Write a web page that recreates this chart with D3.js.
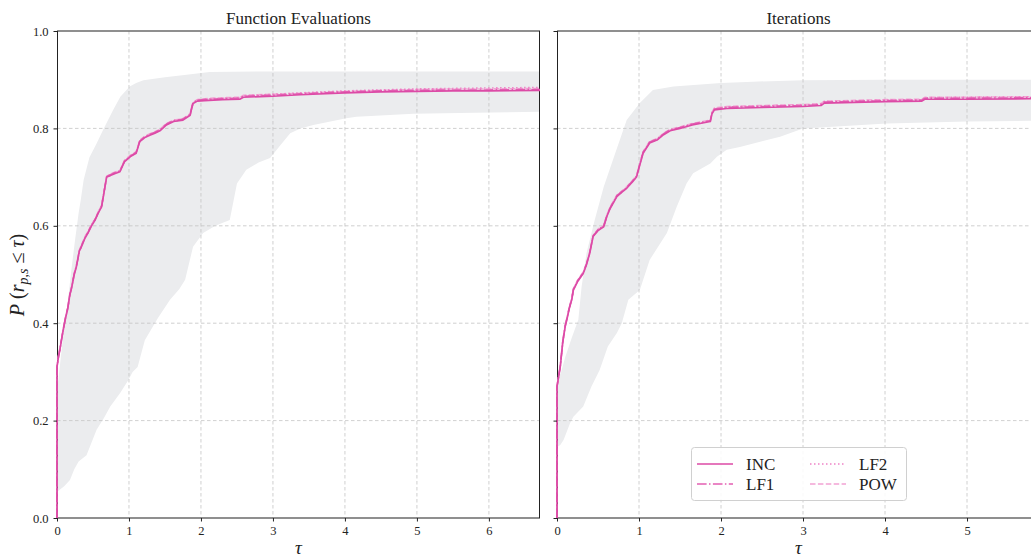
<!DOCTYPE html>
<html>
<head>
<meta charset="utf-8">
<script src="https://cdn.jsdelivr.net/npm/d3@7"></script>
<style>
  html, body { margin: 0; padding: 0; background: #fff; }
  svg { display: block; }
  text { font-family: "Liberation Serif", "DejaVu Serif", serif; fill: #222; }
</style>
</head>
<body>
<svg id="chart" width="1031" height="557"></svg>
<script>
// ---- Performance profiles: function evaluations ----
const fevalTau = [0, 0, 0.02, 0.04, 0.08, 0.11, 0.15, 0.18, 0.20, 0.24, 0.27, 0.31, 0.34, 0.39, 0.43, 0.48, 0.53, 0.58, 0.62, 0.65, 0.69, 0.74, 0.80, 0.875, 0.94, 1.02, 1.10, 1.15, 1.22, 1.29, 1.36, 1.43, 1.52, 1.62, 1.75, 1.85, 1.87, 1.89, 1.95, 2.05, 2.30, 2.54, 2.59, 3.00, 3.38, 4.00, 4.50, 5.00, 5.50, 6.00, 6.71];
const fevalINC = [0, 0.31, 0.33, 0.345, 0.38, 0.405, 0.43, 0.46, 0.47, 0.50, 0.516, 0.548, 0.557, 0.575, 0.585, 0.60, 0.612, 0.628, 0.639, 0.665, 0.70, 0.703, 0.707, 0.711, 0.732, 0.742, 0.749, 0.773, 0.781, 0.786, 0.79, 0.795, 0.807, 0.814, 0.817, 0.827, 0.84, 0.851, 0.856, 0.857, 0.859, 0.860, 0.864, 0.866, 0.869, 0.873, 0.875, 0.876, 0.877, 0.877, 0.878];
const fevalLF1 = [0, 0.31, 0.332, 0.347, 0.382, 0.404, 0.432, 0.458, 0.472, 0.502, 0.518, 0.546, 0.559, 0.577, 0.586, 0.602, 0.613, 0.63, 0.641, 0.667, 0.701, 0.705, 0.709, 0.713, 0.734, 0.743, 0.751, 0.774, 0.783, 0.788, 0.792, 0.797, 0.809, 0.816, 0.819, 0.829, 0.842, 0.853, 0.858, 0.859, 0.861, 0.862, 0.866, 0.868, 0.871, 0.875, 0.877, 0.878, 0.879, 0.879, 0.880];
const fevalLF2 = [0, 0.31, 0.331, 0.346, 0.381, 0.406, 0.431, 0.461, 0.471, 0.501, 0.517, 0.549, 0.558, 0.576, 0.586, 0.601, 0.613, 0.629, 0.640, 0.666, 0.701, 0.704, 0.708, 0.712, 0.733, 0.743, 0.750, 0.774, 0.782, 0.787, 0.791, 0.796, 0.808, 0.815, 0.818, 0.828, 0.841, 0.852, 0.858, 0.860, 0.862, 0.863, 0.867, 0.870, 0.873, 0.877, 0.879, 0.881, 0.882, 0.883, 0.884];
const fevalPOW = [0, 0.31, 0.333, 0.348, 0.383, 0.407, 0.433, 0.462, 0.473, 0.503, 0.519, 0.550, 0.560, 0.578, 0.588, 0.603, 0.614, 0.631, 0.642, 0.668, 0.702, 0.706, 0.710, 0.714, 0.735, 0.745, 0.752, 0.776, 0.784, 0.789, 0.793, 0.798, 0.810, 0.817, 0.820, 0.830, 0.843, 0.854, 0.859, 0.861, 0.863, 0.864, 0.868, 0.870, 0.872, 0.876, 0.878, 0.880, 0.881, 0.881, 0.882];
// spread band (upper and lower envelopes)
const fevalHiTau = [0, 0.02, 0.06, 0.10, 0.13, 0.17, 0.20, 0.25, 0.30, 0.33, 0.37, 0.45, 0.55, 0.65, 0.78, 0.88, 1.01, 1.10, 1.20, 1.50, 1.80, 2.12, 3.00, 4.00, 5.00, 6.71];
const fevalHi = [0.27, 0.285, 0.34, 0.39, 0.42, 0.47, 0.51, 0.57, 0.626, 0.653, 0.694, 0.74, 0.769, 0.80, 0.838, 0.865, 0.886, 0.893, 0.899, 0.905, 0.91, 0.916, 0.917, 0.917, 0.917, 0.917];
const fevalLoTau = [0, 0.02, 0.10, 0.18, 0.24, 0.30, 0.41, 0.48, 0.55, 0.65, 0.74, 0.875, 0.99, 1.05, 1.12, 1.22, 1.40, 1.57, 1.70, 1.78, 1.89, 2.03, 2.20, 2.40, 2.50, 2.63, 2.80, 2.96, 3.10, 3.24, 3.38, 3.56, 4.02, 4.16, 4.95, 5.80, 6.71];
const fevalLo = [0.055, 0.056, 0.065, 0.078, 0.10, 0.116, 0.129, 0.155, 0.181, 0.205, 0.229, 0.256, 0.283, 0.30, 0.31, 0.365, 0.41, 0.448, 0.47, 0.489, 0.557, 0.585, 0.60, 0.612, 0.687, 0.715, 0.73, 0.739, 0.765, 0.79, 0.80, 0.807, 0.821, 0.824, 0.83, 0.832, 0.834];

// ---- Performance profiles: iterations ----
const iterTau = [0, 0, 0.02, 0.04, 0.07, 0.10, 0.12, 0.15, 0.18, 0.20, 0.25, 0.32, 0.36, 0.40, 0.44, 0.50, 0.57, 0.61, 0.65, 0.73, 0.80, 0.85, 0.92, 0.97, 1.01, 1.05, 1.13, 1.22, 1.30, 1.38, 1.50, 1.65, 1.87, 1.89, 1.92, 2.07, 2.50, 3.00, 3.22, 3.26, 4.00, 4.45, 4.49, 5.00, 5.89];
const iterINC = [0, 0.27, 0.29, 0.31, 0.36, 0.393, 0.407, 0.43, 0.448, 0.468, 0.485, 0.502, 0.52, 0.544, 0.578, 0.59, 0.598, 0.62, 0.636, 0.66, 0.67, 0.677, 0.69, 0.70, 0.725, 0.749, 0.77, 0.776, 0.787, 0.795, 0.80, 0.807, 0.814, 0.83, 0.838, 0.841, 0.843, 0.845, 0.847, 0.852, 0.855, 0.856, 0.860, 0.860, 0.861];
const iterLF1 = [0, 0.27, 0.292, 0.312, 0.362, 0.395, 0.409, 0.432, 0.450, 0.470, 0.487, 0.504, 0.522, 0.546, 0.579, 0.592, 0.600, 0.622, 0.638, 0.662, 0.672, 0.679, 0.692, 0.702, 0.727, 0.751, 0.772, 0.778, 0.789, 0.797, 0.802, 0.809, 0.816, 0.832, 0.840, 0.843, 0.845, 0.847, 0.849, 0.854, 0.857, 0.858, 0.862, 0.862, 0.863];
const iterLF2 = [0, 0.27, 0.291, 0.311, 0.361, 0.394, 0.408, 0.431, 0.449, 0.469, 0.486, 0.503, 0.521, 0.545, 0.579, 0.591, 0.599, 0.621, 0.637, 0.661, 0.671, 0.678, 0.691, 0.701, 0.726, 0.750, 0.771, 0.777, 0.788, 0.796, 0.801, 0.808, 0.815, 0.832, 0.840, 0.844, 0.846, 0.848, 0.850, 0.855, 0.858, 0.859, 0.863, 0.864, 0.865];
const iterPOW = [0, 0.27, 0.293, 0.313, 0.363, 0.396, 0.410, 0.433, 0.451, 0.471, 0.488, 0.505, 0.523, 0.547, 0.580, 0.593, 0.601, 0.623, 0.639, 0.663, 0.673, 0.680, 0.693, 0.703, 0.728, 0.752, 0.773, 0.779, 0.790, 0.798, 0.803, 0.810, 0.817, 0.833, 0.842, 0.845, 0.847, 0.849, 0.851, 0.856, 0.859, 0.860, 0.864, 0.864, 0.865];
const iterHiTau = [0, 0.05, 0.10, 0.18, 0.26, 0.30, 0.36, 0.46, 0.57, 0.71, 0.85, 1.01, 1.17, 1.42, 2.00, 2.39, 3.00, 4.00, 5.89];
const iterHi = [0.28, 0.30, 0.33, 0.37, 0.407, 0.475, 0.544, 0.612, 0.68, 0.749, 0.817, 0.852, 0.879, 0.886, 0.893, 0.896, 0.899, 0.90, 0.90];
const iterLoTau = [0, 0.04, 0.08, 0.16, 0.20, 0.32, 0.42, 0.52, 0.62, 0.73, 0.79, 0.87, 1.01, 1.13, 1.34, 1.46, 1.58, 1.66, 1.87, 1.95, 2.07, 2.23, 2.56, 2.72, 3.00, 4.02, 5.00, 5.89];
const iterLo = [0.146, 0.15, 0.16, 0.195, 0.208, 0.229, 0.27, 0.304, 0.352, 0.38, 0.40, 0.448, 0.468, 0.53, 0.585, 0.639, 0.687, 0.708, 0.728, 0.742, 0.756, 0.762, 0.776, 0.783, 0.80, 0.81, 0.814, 0.816];

// ---- Axes ----
const yTicks = [0.0, 0.2, 0.4, 0.6, 0.8, 1.0];
const fevalXTicks = [0, 1, 2, 3, 4, 5, 6];
const iterXTicks = [0, 1, 2, 3, 4, 5];
const fevalXMax = 6.71;
const iterXMax = 5.89;

const seriesNames = ["INC", "LF1", "LF2", "POW"];
const seriesColors = ["#dc4aa6", "#e35fb2", "#ee82c6", "#f2a2d3"];
const seriesDash = [null, "9.6,2.4,1.5,2.4", "1.5,2.5", "5.5,2.4"];

const svg = d3.select("#chart");
const plotTop = 31, plotBottom = 518;

const panels = [
  { title: "Function Evaluations", x0: 57, x1: 540, xMax: fevalXMax, xTicks: fevalXTicks, yLabels: true,
    tau: fevalTau, series: [fevalINC, fevalLF1, fevalLF2, fevalPOW],
    hiTau: fevalHiTau, hi: fevalHi, loTau: fevalLoTau, lo: fevalLo },
  { title: "Iterations", x0: 557, x1: 1040, xMax: iterXMax, xTicks: iterXTicks, yLabels: false,
    tau: iterTau, series: [iterINC, iterLF1, iterLF2, iterPOW],
    hiTau: iterHiTau, hi: iterHi, loTau: iterLoTau, lo: iterLo }
];

panels.forEach((p, pi) => {
  const x = d3.scaleLinear().domain([0, p.xMax]).range([p.x0, p.x1]);
  const y = d3.scaleLinear().domain([0, 1]).range([plotBottom, plotTop]);
  const g = svg.append("g");

  const clipId = "clip" + pi;
  svg.append("clipPath").attr("id", clipId)
    .append("rect").attr("x", p.x0).attr("y", plotTop).attr("width", p.x1 - p.x0).attr("height", plotBottom - plotTop);
  // curves may sit on the axis line at tau = 0, so their clip is a little wider
  const curveClipId = "curveclip" + pi;
  svg.append("clipPath").attr("id", curveClipId)
    .append("rect").attr("x", p.x0 - 2).attr("y", plotTop).attr("width", p.x1 - p.x0 + 2).attr("height", plotBottom - plotTop);

  // shaded spread band
  const bandPts = p.hiTau.map((t, i) => [t, p.hi[i]])
    .concat(p.loTau.map((t, i) => [t, p.lo[i]]).reverse());
  const bandLine = d3.line().x(d => x(d[0])).y(d => y(d[1]));
  g.append("path")
    .attr("d", bandLine(bandPts) + "Z")
    .attr("fill", "#ebecee")
    .attr("clip-path", `url(#${clipId})`);

  // grid
  const grid = g.append("g").attr("stroke", "#c4c4c4").attr("stroke-width", 0.8).attr("stroke-dasharray", "3.5,2.5");
  p.xTicks.filter(t => t > 0).forEach(t => {
    grid.append("line").attr("x1", x(t)).attr("x2", x(t)).attr("y1", plotTop).attr("y2", plotBottom);
  });
  yTicks.filter(t => t > 0 && t < 1).forEach(t => {
    grid.append("line").attr("x1", p.x0).attr("x2", p.x1).attr("y1", y(t)).attr("y2", y(t));
  });

  // frame
  g.append("line").attr("x1", p.x0).attr("x2", p.x1).attr("y1", plotTop).attr("y2", plotTop)
    .attr("stroke", "#6a6a6a").attr("stroke-width", 1.6);
  g.append("line").attr("x1", p.x0).attr("x2", p.x1).attr("y1", plotBottom).attr("y2", plotBottom)
    .attr("stroke", "#6a6a6a").attr("stroke-width", 1.6);
  g.append("line").attr("x1", p.x0 + 0.5).attr("x2", p.x0 + 0.5).attr("y1", plotTop).attr("y2", plotBottom)
    .attr("stroke", "#222").attr("stroke-width", 1);
  g.append("line").attr("x1", p.x1 - 0.5).attr("x2", p.x1 - 0.5).attr("y1", plotTop).attr("y2", plotBottom)
    .attr("stroke", "#222").attr("stroke-width", 1);

  // profile curves
  const line = d3.line().x(d => x(d[0])).y(d => y(d[1]));
  [3, 2, 1, 0].forEach(si => {
    const pts = p.tau.map((t, i) => [t, p.series[si][i]]);
    g.append("path")
      .attr("d", line(pts))
      .attr("fill", "none")
      .attr("stroke", seriesColors[si])
      .attr("stroke-width", 1.6)
      .attr("stroke-linejoin", "round")
      .attr("stroke-dasharray", seriesDash[si])
      .attr("clip-path", `url(#${curveClipId})`);
  });

  // axes
  const xAxis = d3.axisBottom(x).tickValues(p.xTicks).tickSize(3.5).tickPadding(5).tickFormat(d3.format("d"));
  const xg = g.append("g").attr("transform", `translate(0,${plotBottom})`).call(xAxis);
  xg.select(".domain").remove();
  xg.selectAll("line").attr("stroke", "#222");
  xg.selectAll("text").attr("font-size", 12.5).attr("font-family", "Liberation Serif").attr("fill", "#333");

  const yAxis = d3.axisLeft(y).tickValues(yTicks).tickSize(3.5).tickPadding(5)
    .tickFormat(p.yLabels ? d3.format(".1f") : () => "");
  const yg = g.append("g").attr("transform", `translate(${p.x0},0)`).call(yAxis);
  yg.select(".domain").remove();
  yg.selectAll("line").attr("stroke", "#222");
  yg.selectAll("text").attr("font-size", 12.5).attr("font-family", "Liberation Serif").attr("fill", "#333");

  // title
  svg.append("text")
    .attr("x", (p.x0 + p.x1) / 2).attr("y", 24)
    .attr("text-anchor", "middle").attr("font-size", 17)
    .text(p.title);

  // x label
  svg.append("text")
    .attr("x", (p.x0 + p.x1) / 2).attr("y", 554)
    .attr("text-anchor", "middle").attr("font-size", 19).attr("font-style", "italic")
    .text("τ");
});

// y label: P(r_{p,s} ≤ τ)
const yl = svg.append("text")
  .attr("transform", "translate(24,275) rotate(-90)")
  .attr("text-anchor", "middle").attr("font-size", 20);
yl.append("tspan").attr("font-style", "italic").text("P");
yl.append("tspan").text(" (");
yl.append("tspan").attr("font-style", "italic").text("r");
yl.append("tspan").attr("font-style", "italic").attr("font-size", 14).attr("dy", 4).text("p,s");
yl.append("tspan").attr("dy", -4).text(" ≤ ");
yl.append("tspan").attr("font-style", "italic").text("τ");
yl.append("tspan").text(")");

// legend
const leg = svg.append("g");
leg.append("rect")
  .attr("x", 691.5).attr("y", 447.5).attr("width", 215).attr("height", 53).attr("rx", 3)
  .attr("fill", "#fff").attr("fill-opacity", 0.85).attr("stroke", "#d0d0d0").attr("stroke-width", 1);
const legPos = [[697, 464], [697, 484], [810, 464], [810, 484]];
seriesNames.forEach((name, i) => {
  const [lx, ly] = legPos[i];
  leg.append("line").attr("x1", lx).attr("x2", lx + 36).attr("y1", ly).attr("y2", ly)
    .attr("stroke", seriesColors[i]).attr("stroke-width", 1.6).attr("stroke-dasharray", seriesDash[i]);
  leg.append("text").attr("x", lx + 49).attr("y", ly + 6).attr("font-size", 17).text(name);
});
</script>
</body>
</html>
